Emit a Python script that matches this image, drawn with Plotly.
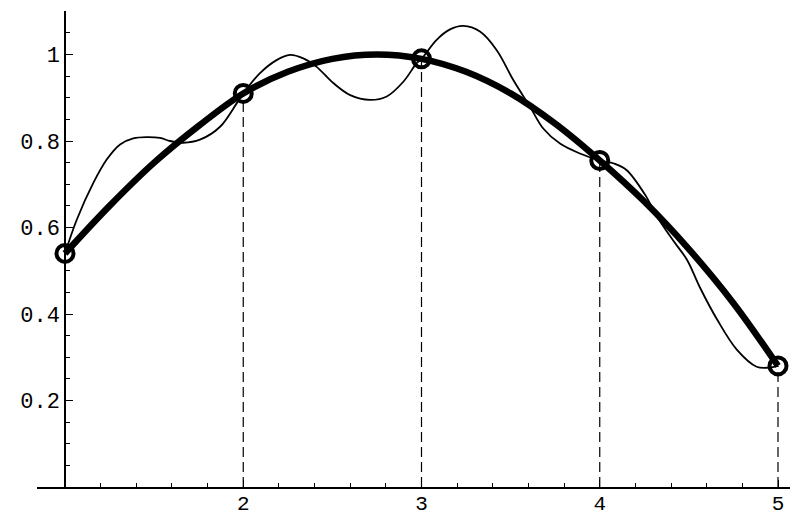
import plotly.graph_objects as go

# Data points (circles)
pts_x = [1, 2, 3, 4, 5]
pts_y = [0.54, 0.91, 0.99, 0.755, 0.28]

# Thick smooth curve
thick_x = [1, 1.25, 1.5, 1.75, 2, 2.25, 2.5, 2.75, 3, 3.25, 3.5, 3.75, 4, 4.25, 4.5, 4.75, 5]
thick_y = [0.54, 0.65, 0.75, 0.835, 0.91, 0.96, 0.99, 1.0, 0.99, 0.96, 0.91, 0.84, 0.755, 0.66, 0.55, 0.425, 0.28]

# Thin oscillating curve
thin_x = [1.0, 1.066, 1.159, 1.234, 1.309, 1.383, 1.46, 1.533, 1.589, 1.664, 1.757, 1.87, 1.963, 2.0,
          2.094, 2.187, 2.262, 2.337, 2.41, 2.505, 2.6, 2.711, 2.805, 2.898, 2.973, 3.0,
          3.085, 3.16, 3.235, 3.328, 3.422, 3.515, 3.609, 3.683, 3.777, 3.889, 4.0,
          4.08, 4.15, 4.26, 4.32, 4.41, 4.49, 4.56, 4.66, 4.77, 4.88, 4.95, 5.0]
thin_y = [0.54, 0.618, 0.703, 0.757, 0.792, 0.806, 0.809, 0.807, 0.80, 0.796, 0.803, 0.833, 0.887, 0.91,
          0.957, 0.987, 0.999, 0.991, 0.972, 0.934, 0.906, 0.895, 0.903, 0.937, 0.98, 0.99,
          1.034, 1.058, 1.066, 1.053, 1.01, 0.941, 0.879, 0.829, 0.794, 0.771, 0.755,
          0.748, 0.733, 0.672, 0.626, 0.571, 0.525, 0.463, 0.386, 0.317, 0.278, 0.276, 0.28]

x_tickvals = [2, 3, 4, 5]
x_ticktext = ["2", "3", "4", "5"]
y_tickvals = [0.2, 0.4, 0.6, 0.8, 1.0]
y_ticktext = ["0.2", "0.4", "0.6", "0.8", "1"]

fig = go.Figure()

# dashed drop lines
for xv, yv in zip(pts_x[1:], pts_y[1:]):
    fig.add_trace(go.Scatter(x=[xv, xv], y=[0, yv], mode="lines",
                             line=dict(color="black", width=1.2, dash="10px,5px"),
                             hoverinfo="skip", showlegend=False))

fig.add_trace(go.Scatter(x=thin_x, y=thin_y, mode="lines", line_shape="spline",
                         line=dict(color="black", width=1.8), showlegend=False))
fig.add_trace(go.Scatter(x=thick_x, y=thick_y, mode="lines", line_shape="spline",
                         line=dict(color="black", width=6.5), showlegend=False))
fig.add_trace(go.Scatter(x=pts_x, y=pts_y, mode="markers",
                         marker=dict(symbol="circle-open", size=17, color="black",
                                     line=dict(width=4, color="black")),
                         showlegend=False))

# page body has an 8px margin, so the figure is shifted by 8px
W, H = 790, 507
ml, mr, mt, mb = 29, 0, 3, 28
plot_w = W - ml - mr
x0 = 1 - (65 - 37) / 178.25
x1 = 1 + (798 - 65) / 178.25

fig.update_layout(
    width=W, height=H,
    margin=dict(l=ml, r=mr, t=mt, b=mb),
    paper_bgcolor="white", plot_bgcolor="white",
    font=dict(family="Liberation Mono", size=22, color="black"),
    xaxis=dict(range=[x0, x1], showgrid=False, zeroline=False, automargin=False,
               showline=True, linecolor="black", linewidth=1.5,
               tickvals=x_tickvals, ticktext=x_ticktext,
               ticks="inside", ticklen=7, tickwidth=1.3, tickcolor="black",
               ticklabelstandoff=-4,
               minor=dict(dtick=0.2, tick0=1, ticks="inside", ticklen=4, tickwidth=1.2, tickcolor="black"),
               tickfont=dict(family="Liberation Mono", size=21)),
    yaxis=dict(range=[0, 476 / 432.5], showgrid=False, zeroline=False, automargin=False,
               anchor="free", position=(65 - 37) / plot_w,
               showline=True, linecolor="black", linewidth=1.5,
               tickvals=y_tickvals, ticktext=y_ticktext,
               ticks="inside", ticklen=7, tickwidth=1.3, tickcolor="black",
               minor=dict(dtick=0.05, tick0=0, ticks="inside", ticklen=4, tickwidth=1.2, tickcolor="black"),
               tickfont=dict(family="Liberation Mono", size=22)),
)

fig.write_html("out.html")
